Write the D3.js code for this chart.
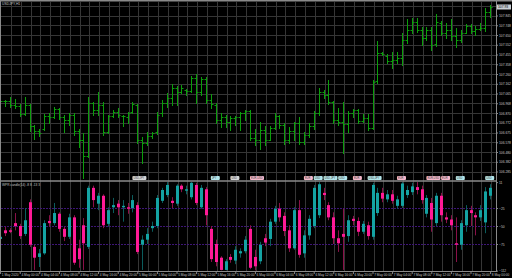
<!DOCTYPE html>
<html>
<head>
<meta charset="utf-8">
<script src="https://cdn.jsdelivr.net/npm/d3@7/dist/d3.min.js"></script>
<style>
body { margin:0; background:#000; overflow:hidden; }
svg { display:block; font-family:"Liberation Sans", Arial, sans-serif; }
</style>
</head>
<body>
<svg width="512" height="278"></svg>
<script>
// hourly price bars, index 0 is the half hidden bar at the left edge
var opens = [106.98,106.99,106.99,106.95,106.94,106.86,106.95,106.74,106.69,106.71,
  106.84,106.83,106.91,106.83,106.80,106.85,106.69,106.60,106.44,106.97,
  106.90,106.95,106.68,106.84,106.88,106.84,106.83,106.88,106.95,106.60,
  106.57,106.64,106.68,106.87,106.97,107.02,107.12,107.08,107.10,107.09,
  107.22,107.08,107.21,107.00,106.95,106.80,106.83,106.78,106.82,106.83,
  106.87,106.89,106.62,106.60,106.70,106.60,106.72,106.84,106.75,106.60,
  106.69,106.77,106.58,106.65,106.74,106.87,107.08,107.05,106.98,106.80,
  106.78,106.76,106.87,106.90,106.79,106.82,106.72,107.19,107.47,107.44,
  107.39,107.40,107.42,107.60,107.70,107.78,107.70,107.62,107.70,107.56,
  107.77,107.67,107.70,107.64,107.60,107.67,107.74,107.69,107.71,107.72,
  107.88];
var highs = [107.01,107.00,107.03,107.01,106.96,107.03,106.96,106.75,106.71,106.86,
  106.87,106.93,106.92,106.85,106.87,106.87,106.71,106.67,107.03,106.98,
  107.08,106.98,106.85,106.90,106.92,106.85,106.88,106.98,106.96,106.63,
  106.68,106.68,106.88,107.00,107.07,107.16,107.14,107.15,107.11,107.24,
  107.26,107.23,107.23,107.06,106.97,106.87,106.85,106.84,106.84,106.88,
  106.90,106.90,106.71,106.78,106.74,106.74,106.87,106.85,106.77,106.73,
  106.78,106.83,106.68,106.77,106.89,107.12,107.10,107.20,106.99,106.92,
  106.98,106.89,106.91,106.91,106.86,106.86,107.20,107.59,107.48,107.46,
  107.48,107.48,107.67,107.81,107.82,107.82,107.73,107.73,107.73,107.86,
  107.79,107.77,107.81,107.72,107.70,107.76,107.76,107.74,107.77,107.92,
  107.95];
var lows = [106.97,106.94,106.93,106.92,106.84,106.85,106.69,106.61,106.64,106.70,
  106.77,106.82,106.81,106.68,106.75,106.65,106.53,106.22,106.43,106.85,
  106.85,106.65,106.67,106.83,106.83,106.74,106.77,106.87,106.57,106.37,
  106.55,106.62,106.66,106.84,106.93,106.95,106.95,107.07,107.05,107.08,
  106.97,107.05,106.97,106.92,106.77,106.73,106.73,106.70,106.75,106.70,
  106.80,106.60,106.55,106.51,106.55,106.60,106.71,106.72,106.56,106.57,
  106.60,106.56,106.56,106.63,106.71,106.85,107.02,106.96,106.77,106.75,
  106.47,106.68,106.83,106.77,106.78,106.70,106.71,107.17,107.45,107.37,
  107.32,107.37,107.35,107.57,107.67,107.68,107.55,107.60,107.50,107.54,
  107.65,107.62,107.60,107.53,107.58,107.67,107.67,107.65,107.70,107.69,
  107.83];
var closes = [106.99,106.99,106.95,106.94,106.86,106.95,106.74,106.69,106.67,106.84,
  106.83,106.91,106.83,106.80,106.85,106.69,106.60,106.44,106.97,106.90,
  106.95,106.68,106.84,106.88,106.85,106.84,106.87,106.96,106.60,106.57,
  106.64,106.67,106.85,106.97,107.02,107.12,107.08,107.12,107.09,107.22,
  107.08,107.21,107.00,106.96,106.80,106.83,106.78,106.82,106.83,106.87,
  106.89,106.62,106.60,106.70,106.60,106.72,106.84,106.75,106.60,106.69,
  106.77,106.58,106.65,106.74,106.87,107.08,107.05,106.98,106.80,106.78,
  106.76,106.87,106.90,106.79,106.82,106.72,107.18,107.47,107.46,107.39,
  107.40,107.42,107.60,107.70,107.78,107.70,107.62,107.70,107.55,107.78,
  107.67,107.70,107.64,107.60,107.67,107.74,107.69,107.71,107.72,107.88,
  107.93];

// indicator candles in the lower window
var wprOpen = [-68,-56,-56,-46,-50,-61,-17,-79,-93,-88,
  -43,-46,-33,-54,-65,-38,-81,-49,-79,3,
  -19,-8,-47,-24,-19,-24,-24,-25,-21,-76,
  -69,-53,-50,-15,-7,-15,-19,6,-1,-10,
  7,-24,1,-54,-75,-94,-111,-93,-98,-88,
  -85,-54,-93,-99,-67,-68,-44,-26,-36,-56,
  -81,-28,-88,-63,-50,-35,-4,-21,-38,-67,
  -61,-64,-40,-43,-58,-49,-65,-32,-4,-13,
  -6,-22,-22,-7,-3,4,1,-33,-18,-46,
  -8,-38,-41,-74,-76,-49,-28,-35,-38,-45,
  -8];
var wprHigh = [-64,-51,-53,-32,-47,-25,-13,-76,-82,-42,
  -35,-18,-31,-51,-33,-35,-69,-39,6,6,
  -4,-6,-24,-11,-14,-14,-18,-7,-17,-63,
  -53,-44,-7,3,11,-10,8,8,6,11,
  10,7,4,-50,-69,-92,-96,-89,-78,-81,
  -64,-49,-83,-72,-61,-40,-22,-18,-31,-49,
  -24,-14,-56,-35,7,11,3,-17,-31,-56,
  -26,-35,-36,-38,-43,-44,10,3,3,0,
  0,-8,11,6,10,11,6,-7,-11,-4,
  -4,-31,-35,-38,-42,-21,-22,-31,-21,4,
  8];
var wprLow = [-69,-64,-60,-56,-68,-64,-79,-111,-107,-90,
  -51,-49,-58,-71,-68,-104,-108,-111,-82,-24,
  -28,-53,-51,-32,-35,-44,-33,-31,-89,-111,
  -75,-58,-53,-18,-10,-25,-22,-3,-6,-13,
  -21,-26,-49,-100,-106,-112,-112,-101,-103,-94,
  -88,-110,-112,-103,-78,-78,-47,-44,-64,-86,
  -83,-94,-94,-69,-53,-39,-14,-42,-75,-86,
  -111,-72,-49,-64,-61,-69,-69,-36,-17,-17,
  -19,-26,-25,-11,-7,-6,-19,-38,-58,-50,
  -44,-46,-56,-100,-83,-58,-50,-63,-43,-60,
  -13];
var wprClose = [-65,-60,-58,-50,-64,-42,-76,-94,-88,-46,
  -46,-32,-54,-65,-38,-101,-96,-74,3,-14,
  -8,-49,-28,-21,-24,-22,-26,-14,-86,-69,
  -61,-50,-11,0,7,-18,6,1,1,10,
  -18,3,-35,-96,-100,-111,-99,-97,-83,-85,
  -69,-108,-106,-76,-73,-44,-26,-38,-57,-81,
  -28,-90,-63,-40,3,8,-7,-38,-67,-74,
  -65,-42,-43,-58,-47,-64,7,-4,-12,-6,
  -15,-13,9,0,5,0,-14,-11,-41,-8,
  -35,-41,-49,-76,-46,-28,-32,-38,-28,-2,
  3];
var wprLevels = [-25, -50, -75];
var wprLabels = [11, -25, -50, -75, -112];

// grid rows of the price window; the first row sits under the current price box
var priceTicks = [107.9425,107.845,107.7475,107.65,107.5525,107.455,107.3575,107.26,107.1625,
  107.065,106.9675,106.87,106.7725,106.675,106.5775,106.48,106.3825,106.285];

var timeBars = [0,4,8,12,16,20,24,28,32,36,40,44,48,52,56,60,64,68,72,76,80,84,88,92,96,100];
var timeLabels = ["1 May 2020","4 May 00:00","4 May 04:00","4 May 08:00","4 May 12:00","4 May 16:00",
  "4 May 20:00","5 May 00:00","5 May 04:00","5 May 08:00","5 May 12:00","5 May 16:00","5 May 20:00",
  "6 May 00:00","6 May 04:00","6 May 08:00","6 May 12:00","6 May 16:00","6 May 20:00","7 May 00:00",
  "7 May 04:00","7 May 08:00","7 May 12:00","7 May 16:00","7 May 20:00","8 May 00:00"];

// calendar events shown along the bottom of the price window
var eventBars = [27,43,47,51,62,64,66,69,72,75,81,87,90,93,99];
var eventText = ["USD,JPY","JPY","USD","EUR,USD","EUR","USD","USD,JPY","USD","EUR","USD,JPY","EUR","EUR,USD","EUR","USD","USD"];
var eventKind = ["grey","teal","grey","pink","pink","teal","teal","teal","pink","teal","pink","pink","pink","teal","teal"];

var svg = d3.select("svg");
var frame = "#8a8a8a";
var textCol = "#c4c4c4";
var barGreen = "#0c9e0c";
var upCol = "#14a3a3", downCol = "#ff1a96";
var upWick = "#0b5c5c", downWick = "#8a1048";
var eventFill = {grey:"#d6d6d6", teal:"#b4e6ea", pink:"#f4b8ca"};

var xScale = d3.scaleLinear().domain([0, opens.length - 1]).range([0.1, 490.1]);
var px = function(j){ return Math.round(xScale(j)) + 0.5; };
var yPrice = d3.scaleLinear().domain([108.0, 106.2]).range([0, 180]);
var yWpr = d3.scaleLinear().domain([11, -112]).range([182.08, 270.64]);
var crisp = function(v){ return Math.round(v) + 0.5; };

svg.append("rect").attr("width", 512).attr("height", 278).attr("fill", "#000");

var defs = svg.append("defs");
defs.append("clipPath").attr("id", "clipTop").append("rect")
  .attr("x", 1).attr("y", 2).attr("width", 495).attr("height", 178.5);
defs.append("clipPath").attr("id", "clipLow").append("rect")
  .attr("x", 1).attr("y", 182).attr("width", 495).attr("height", 88.5);

// grid
var gridIdx = d3.range(2, opens.length, 2);
var grid = svg.append("g").attr("stroke", "#363636").attr("stroke-width", 1);
grid.selectAll("line.v").data(gridIdx).enter().append("line")
  .attr("x1", function(d){ return px(d) + 1; })
  .attr("x2", function(d){ return px(d) + 1; })
  .attr("y1", 2).attr("y2", 271);
grid.selectAll("line.h").data(priceTicks).enter().append("line")
  .attr("x1", 1).attr("x2", 496)
  .attr("y1", function(d){ return crisp(yPrice(d)); })
  .attr("y2", function(d){ return crisp(yPrice(d)); });

// levels of the lower window
svg.append("g").selectAll("line").data(wprLevels).enter().append("line")
  .attr("x1", 1).attr("x2", 496)
  .attr("y1", function(d){ return crisp(yWpr(d)); })
  .attr("y2", function(d){ return crisp(yWpr(d)); })
  .attr("stroke", "#3e1676").attr("stroke-width", 1).attr("stroke-dasharray", "2,1");

// price bars
var idx = d3.range(opens.length);
var priceG = svg.append("g").attr("clip-path", "url(#clipTop)")
  .attr("stroke", barGreen).attr("stroke-width", 1);
var bars = priceG.selectAll("g").data(idx).enter().append("g");
bars.append("line")
  .attr("x1", px).attr("x2", px)
  .attr("y1", function(j){ return Math.round(yPrice(highs[j])); })
  .attr("y2", function(j){ return Math.round(yPrice(lows[j])) + 1; });
bars.append("line")
  .attr("x1", function(j){ return px(j) - 2; }).attr("x2", px)
  .attr("y1", function(j){ return crisp(yPrice(opens[j])); })
  .attr("y2", function(j){ return crisp(yPrice(opens[j])); });
bars.append("line")
  .attr("x1", px).attr("x2", function(j){ return px(j) + 2; })
  .attr("y1", function(j){ return crisp(yPrice(closes[j])); })
  .attr("y2", function(j){ return crisp(yPrice(closes[j])); });

// indicator candles
var wprG = svg.append("g").attr("clip-path", "url(#clipLow)");
var isUp = function(j){ return wprClose[j] >= wprOpen[j]; };
wprG.selectAll("line").data(idx).enter().append("line")
  .attr("x1", px).attr("x2", px)
  .attr("y1", function(j){ return yWpr(wprHigh[j]); })
  .attr("y2", function(j){ return yWpr(wprLow[j]); })
  .attr("stroke", function(j){ return isUp(j) ? upWick : downWick; })
  .attr("stroke-width", 1);
wprG.selectAll("rect").data(idx).enter().append("rect")
  .attr("x", function(j){ return px(j) - 1.5; })
  .attr("width", 3)
  .attr("y", function(j){ return yWpr(Math.max(wprOpen[j], wprClose[j])); })
  .attr("height", function(j){
    return Math.max(1, yWpr(Math.min(wprOpen[j], wprClose[j])) - yWpr(Math.max(wprOpen[j], wprClose[j])));
  })
  .attr("fill", function(j){ return isUp(j) ? upCol : downCol; });

// event labels
var ev = svg.append("g").selectAll("g").data(d3.range(eventBars.length)).enter().append("g");
ev.append("rect")
  .attr("x", function(i){ return xScale(eventBars[i]); })
  .attr("y", 176).attr("height", 4).attr("rx", 1)
  .attr("width", function(i){ return eventText[i].length > 3 ? 14 : 9; })
  .attr("fill", function(i){ return eventFill[eventKind[i]]; });
ev.append("text")
  .attr("x", function(i){ return xScale(eventBars[i]) + 1; })
  .attr("y", 179.2)
  .attr("font-size", "2.6px").attr("fill", "#404040")
  .text(function(i){ return eventText[i]; });

// frame
var fr = svg.append("g").attr("stroke", frame).attr("fill", "none");
fr.append("line").attr("x1", 0).attr("x2", 512).attr("y1", 0.75).attr("y2", 0.75).attr("stroke-width", 1.5);
fr.append("line").attr("x1", 0).attr("x2", 497).attr("y1", 181).attr("y2", 181).attr("stroke-width", 1.5);
fr.append("line").attr("x1", 0.5).attr("x2", 0.5).attr("y1", 0).attr("y2", 271);

// price axis (the top row's label is hidden by the current price box)
var priceAxis = d3.axisRight(yPrice).tickValues(priceTicks.slice(1))
  .tickFormat(d3.format(".3f")).tickSize(2).tickPadding(1);
var gP = svg.append("g").attr("transform", "translate(496,0)").call(priceAxis);
gP.select(".domain").attr("stroke", frame).attr("d", "M0.5,0V271");
gP.selectAll(".tick line").attr("stroke", frame);
gP.selectAll("text").attr("fill", textCol).attr("font-size", "3.3px")
  .attr("font-family", "Liberation Sans, Arial, sans-serif");

// current price box
var last = closes[closes.length - 1];
svg.append("rect").attr("x", 497).attr("y", yPrice(last) - 2.5)
  .attr("width", 14).attr("height", 5).attr("fill", "#c9ced4");
svg.append("text").attr("x", 498).attr("y", yPrice(last) + 1.2)
  .attr("font-size", "3.3px").attr("fill", "#000")
  .text(d3.format(".2f")(last));

// indicator axis
var wprAxis = d3.axisRight(yWpr).tickValues(wprLabels)
  .tickFormat(d3.format("d")).tickSize(2).tickPadding(1);
var gW = svg.append("g").attr("transform", "translate(496,0)").call(wprAxis);
gW.select(".domain").remove();
gW.selectAll(".tick line").attr("stroke", frame);
gW.selectAll("text").attr("fill", textCol).attr("font-size", "3.3px")
  .attr("font-family", "Liberation Sans, Arial, sans-serif");

// time axis
var timeAxis = d3.axisBottom(xScale).tickValues(timeBars)
  .tickFormat(function(d, i){ return timeLabels[i]; }).tickSize(3).tickPadding(0);
var gT = svg.append("g").attr("transform", "translate(0,271)").call(timeAxis);
gT.select(".domain").attr("stroke", frame).attr("d", "M0,0.5H497");
gT.selectAll(".tick line").attr("stroke", frame);
gT.selectAll("text").attr("fill", textCol).attr("font-size", "3.2px")
  .attr("text-anchor", "start").attr("x", 1.2).attr("dy", "0.35em").attr("y", 3.4)
  .attr("font-family", "Liberation Sans, Arial, sans-serif");

// window captions
svg.append("text").attr("x", 2).attr("y", 5).attr("font-size", "3.4px").attr("fill", textCol)
  .text("USDJPY,H1");
svg.append("text").attr("x", 2).attr("y", 186).attr("font-size", "3.2px").attr("fill", textCol)
  .text("WPR candle(14) -8 8 -13 3");
</script>
</body>
</html>
